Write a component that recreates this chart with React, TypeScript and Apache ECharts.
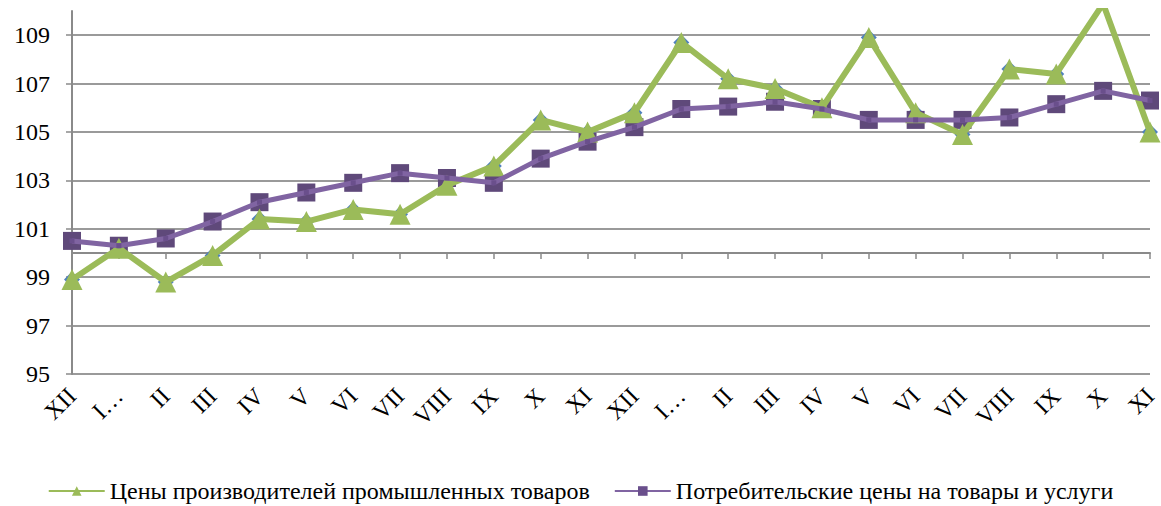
import React, { useEffect, useRef } from "react";
import * as echarts from "echarts";

const categories = [
  "XII", "I…", "II", "III", "IV", "V", "VI", "VII", "VIII", "IX", "X", "XI",
  "XII", "I…", "II", "III", "IV", "V", "VI", "VII", "VIII", "IX", "X", "XI",
];

const producerPrices = [
  98.9, 100.2, 98.8, 99.9, 101.4, 101.3, 101.8, 101.6, 102.8, 103.6, 105.5, 105.0,
  105.8, 108.7, 107.2, 106.8, 106.0, 108.9, 105.8, 104.9, 107.6, 107.4, 110.3, 105.0,
];

const consumerPrices = [
  100.5, 100.3, 100.6, 101.3, 102.1, 102.5, 102.9, 103.3, 103.1, 102.9, 103.9, 104.6,
  105.2, 105.95, 106.05, 106.25, 105.95, 105.5, 105.5, 105.5, 105.6, 106.15, 106.7, 106.3,
];

const seriesNames = [
  "Цены производителей промышленных товаров",
  "Потребительские цены на товары и услуги",
];

const Y_MIN = 95;
const Y_MAX = 110;
const Y_STEP = 2;
const CROSS_VALUE = 100;

const GRID_TOP = 11;
const GRID_HEIGHT = 363;

export default function App() {
  const ref = useRef<HTMLDivElement>(null);

  useEffect(() => {
    if (!ref.current) return;
    const chart = echarts.init(ref.current, undefined, { renderer: "svg" });
    const font = "'Liberation Serif', serif";
    const crossOffset = -GRID_HEIGHT * (CROSS_VALUE - Y_MIN) / (Y_MAX - Y_MIN);

    chart.setOption({
      animation: false,
      backgroundColor: "#ffffff",
      grid: { left: 72, right: 11, top: GRID_TOP, height: GRID_HEIGHT },
      legend: {
        data: seriesNames,
        bottom: -2,
        left: "center",
        itemWidth: 56,
        itemHeight: 12,
        itemGap: 24,
        textStyle: { fontFamily: font, fontSize: 24, color: "#000" },
      },
      xAxis: [
        {
          type: "category",
          data: categories,
          boundaryGap: false,
          position: "bottom",
          offset: crossOffset,
          axisLine: { show: true, lineStyle: { color: "#8a8a8a", width: 2 } },
          axisTick: { show: true, length: 6, lineStyle: { color: "#8a8a8a", width: 1.5 } },
          axisLabel: { show: false },
          splitLine: { show: false },
        },
        {
          type: "category",
          data: categories,
          boundaryGap: false,
          position: "bottom",
          axisLine: { show: false },
          axisTick: { show: false },
          axisLabel: {
            show: true,
            interval: 0,
            rotate: 45,
            margin: 18,
            fontFamily: font,
            fontSize: 24,
            color: "#000",
          },
          splitLine: { show: false },
        },
      ],
      yAxis: {
        type: "value",
        min: Y_MIN,
        max: Y_MAX,
        interval: Y_STEP,
        axisLine: { show: true, lineStyle: { color: "#8a8a8a", width: 2 } },
        axisTick: { show: true, length: 6, lineStyle: { color: "#8a8a8a", width: 1.5 } },
        axisLabel: {
          fontFamily: font,
          fontSize: 24,
          color: "#000",
          margin: 22,
          showMaxLabel: false,
        },
        splitLine: {
          show: true,
          showMaxLine: false,
          lineStyle: { color: "#9a9a9a", width: 2 },
        },
      },
      series: [
        {
          name: "diamonds",
          type: "line",
          data: producerPrices,
          symbol: "diamond",
          symbolSize: 16,
          showSymbol: true,
          itemStyle: { color: "#4F81BD" },
          lineStyle: { width: 0, opacity: 0 },
          silent: true,
          z: 1,
        },
        {
          name: "squares",
          type: "line",
          data: consumerPrices,
          symbol: "rect",
          symbolSize: 18,
          itemStyle: { color: "#5F497A" },
          lineStyle: { width: 0, opacity: 0 },
          silent: true,
          z: 1,
        },
        {
          name: seriesNames[1],
          type: "line",
          data: consumerPrices,
          symbol: "rect",
          symbolSize: 5,
          itemStyle: { color: "#6a4f8c" },
          lineStyle: { color: "#8064A2", width: 5 },
          z: 3,
        },
        {
          name: seriesNames[0],
          type: "line",
          data: producerPrices,
          symbol: "triangle",
          symbolSize: 21,
          itemStyle: { color: "#9BBB59" },
          lineStyle: { color: "#9BBB59", width: 6 },
          z: 2,
        },
      ],
    });

    return () => chart.dispose();
  }, []);

  return (
    <div
      ref={ref}
      style={{ position: "fixed", left: 0, top: 0, width: 1161, height: 506 }}
    />
  );
}
